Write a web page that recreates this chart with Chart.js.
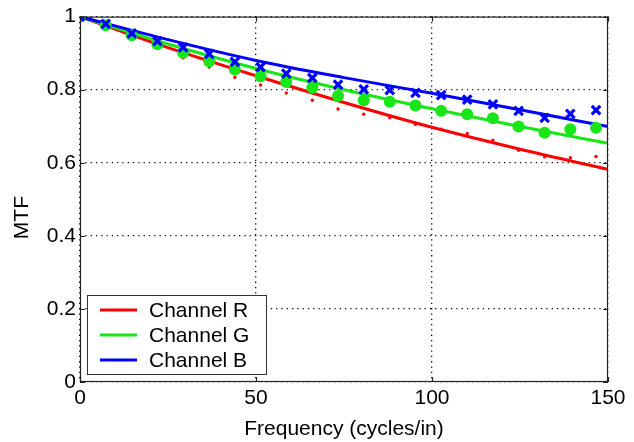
<!DOCTYPE html>
<html>
<head>
<meta charset="utf-8">
<script src="https://cdn.jsdelivr.net/npm/chart.js@4.4.1/dist/chart.umd.min.js"></script>
<style>
  html, body { margin: 0; padding: 0; background: #fff; }
  #wrap { width: 634px; height: 442px; }
</style>
</head>
<body>
<div id="wrap"><canvas id="mtfChart" width="634" height="442"></canvas></div>
<script>
// measured samples (cycles/in)
const freq = [0, 7.3, 14.7, 22, 29.3, 36.7, 44, 51.3, 58.6, 66, 73.3, 80.6, 88, 95.3, 102.6, 110, 117.3, 124.6, 132, 139.3, 146.6];
const measR = [1.0, 0.973, 0.945, 0.915, 0.887, 0.862, 0.834, 0.813, 0.791, 0.771, 0.747, 0.733, 0.723, 0.705, 0.692, 0.680, 0.662, 0.634, 0.616, 0.614, 0.617];
const measG = [1.0, 0.976, 0.949, 0.924, 0.901, 0.878, 0.855, 0.837, 0.821, 0.805, 0.783, 0.771, 0.767, 0.757, 0.742, 0.733, 0.722, 0.699, 0.682, 0.692, 0.696];
const measB = [1.0, 0.980, 0.954, 0.933, 0.916, 0.898, 0.876, 0.862, 0.844, 0.832, 0.814, 0.801, 0.799, 0.791, 0.785, 0.773, 0.760, 0.742, 0.723, 0.734, 0.744];

// fitted model curves
const fitX = [0, 25, 50, 75, 100, 125, 150];
const fitR = [1.0, 0.915, 0.838, 0.765, 0.697, 0.637, 0.582];
const fitG = [1.0, 0.925, 0.858, 0.800, 0.748, 0.699, 0.653];
const fitB = [1.0, 0.937, 0.880, 0.833, 0.790, 0.745, 0.699];

const channelNames = ['Channel R', 'Channel G', 'Channel B'];
const channelColors = ['#ff0000', '#19e619', '#0000ff'];

const xTicks = [0, 50, 100, 150];
const yTicks = [0, 0.2, 0.4, 0.6, 0.8, 1];
const yTitle = 'MTF';

const FONT = "'Liberation Sans', Arial, Helvetica, sans-serif";

const toPoints = (xs, ys) => xs.map((x, i) => ({ x: x, y: ys[i] }));

// box frame, inner ticks, y title and the legend drawn inside the plot
const framePlugin = {
  id: 'frame',
  afterDatasetsDraw(chart) {
    const { ctx, chartArea: a, scales } = chart;
    ctx.save();
    ctx.strokeStyle = '#222';
    ctx.lineWidth = 1.2;
    ctx.strokeRect(a.left + 0.5, a.top + 0.5, a.right - a.left - 1, a.bottom - a.top - 1);
    ctx.beginPath();
    xTicks.forEach(v => {
      const px = Math.round(scales.x.getPixelForValue(v)) + 0.5;
      ctx.moveTo(px, a.bottom); ctx.lineTo(px, a.bottom - 5);
      ctx.moveTo(px, a.top); ctx.lineTo(px, a.top + 5);
    });
    yTicks.forEach(v => {
      const py = Math.round(scales.y.getPixelForValue(v)) + 0.5;
      ctx.moveTo(a.left, py); ctx.lineTo(a.left + 5, py);
      ctx.moveTo(a.right, py); ctx.lineTo(a.right - 5, py);
    });
    ctx.stroke();

    // y axis title, sits a little below the plot centre in the original
    ctx.save();
    ctx.translate(22, scales.y.getPixelForValue(0.45));
    ctx.rotate(-Math.PI / 2);
    ctx.fillStyle = '#000';
    ctx.font = '21px ' + FONT;
    ctx.textAlign = 'center';
    ctx.textBaseline = 'middle';
    ctx.fillText(yTitle, 0, 0);
    ctx.restore();

    // legend
    const bx = a.left + 7, by = a.bottom - 87, bw = 179, bh = 79;
    ctx.fillStyle = '#fff';
    ctx.fillRect(bx, by, bw, bh);
    ctx.strokeStyle = '#333';
    ctx.lineWidth = 1;
    ctx.strokeRect(bx + 0.5, by + 0.5, bw, bh);
    ctx.font = '21px ' + FONT;
    ctx.textBaseline = 'middle';
    channelNames.forEach((name, i) => {
      const cy = by + 15 + i * 25;
      ctx.strokeStyle = channelColors[i];
      ctx.lineWidth = 3;
      ctx.beginPath();
      ctx.moveTo(bx + 13, cy); ctx.lineTo(bx + 50, cy);
      ctx.stroke();
      ctx.fillStyle = '#000';
      ctx.fillText(name, bx + 62, cy + 1);
    });
    ctx.restore();
  }
};

const datasets = [
  {
    label: 'Channel B fit', data: toPoints(fitX, fitB), showLine: true,
    borderColor: channelColors[2], borderWidth: 3, pointRadius: 0,
    cubicInterpolationMode: 'monotone', order: 4
  },
  {
    label: 'Channel G fit', data: toPoints(fitX, fitG), showLine: true,
    borderColor: channelColors[1], borderWidth: 3, pointRadius: 0,
    cubicInterpolationMode: 'monotone', order: 5
  },
  {
    label: 'Channel R fit', data: toPoints(fitX, fitR), showLine: true,
    borderColor: channelColors[0], borderWidth: 3, pointRadius: 0,
    cubicInterpolationMode: 'monotone', order: 6
  },
  {
    label: 'Channel R data', data: toPoints(freq, measR), showLine: false,
    pointStyle: 'circle', pointRadius: 1.7, pointBackgroundColor: channelColors[0],
    pointBorderWidth: 0, order: 3
  },
  {
    label: 'Channel G data', data: toPoints(freq, measG), showLine: false,
    pointStyle: 'circle', pointRadius: 6, pointBackgroundColor: channelColors[1],
    pointBorderWidth: 0, order: 2
  },
  {
    label: 'Channel B data', data: toPoints(freq, measB), showLine: false,
    pointStyle: 'crossRot', pointRadius: 6, pointBorderColor: channelColors[2],
    pointBorderWidth: 3.2, order: 1
  }
];

new Chart(document.getElementById('mtfChart'), {
  type: 'scatter',
  data: { datasets: datasets },
  options: {
    responsive: false,
    animation: false,
    layout: { padding: { top: 15, right: 26, left: 0, bottom: 0 } },
    plugins: { legend: { display: false }, tooltip: { enabled: false } },
    scales: {
      x: {
        type: 'linear', min: 0, max: 150,
        afterBuildTicks: s => { s.ticks = xTicks.map(v => ({ value: v })); },
        afterFit: s => { s.height = 60; },
        grid: { color: '#111', lineWidth: 1.3, drawTicks: false },
        border: { display: false, dash: [1.3, 4] },
        ticks: { color: '#000', padding: 4, font: { family: FONT, size: 21 } },
        title: { display: true, text: 'Frequency (cycles/in)', color: '#000', padding: { top: 6, bottom: 0 }, font: { family: FONT, size: 21 } }
      },
      y: {
        type: 'linear', min: 0, max: 1,
        afterBuildTicks: s => { s.ticks = yTicks.map(v => ({ value: v })); },
        afterFit: s => { s.width = 80; },
        grid: { color: '#111', lineWidth: 1.3, drawTicks: false },
        border: { display: false, dash: [1.3, 4] },
        ticks: {
          color: '#000', padding: 4, font: { family: FONT, size: 21 },
          callback: v => (v === 0 || v === 1) ? String(v) : v.toFixed(1)
        },
        title: { display: false }
      }
    }
  },
  plugins: [framePlugin]
});
</script>
</body>
</html>
